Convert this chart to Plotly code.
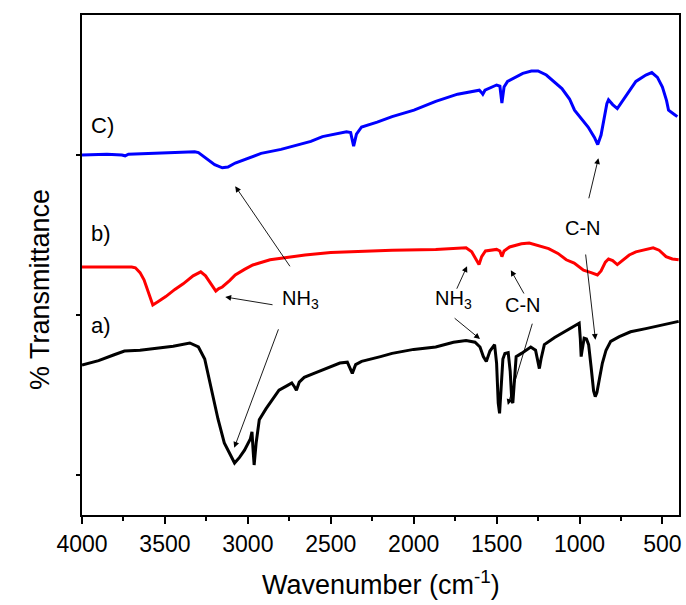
import plotly.graph_objects as go

# FTIR spectra: wavenumber (cm-1) and offset % transmittance for each sample
wn_a = [4000, 3900, 3810, 3744, 3650, 3573, 3450, 3350, 3298, 3260, 3232, 3208, 3180, 3142,
        3106, 3080, 3050, 3020, 2985, 2975, 2968, 2962, 2950, 2931, 2890, 2852, 2812, 2760,
        2735, 2718, 2707, 2690, 2660, 2601, 2520, 2445, 2400, 2385, 2370, 2350, 2314, 2200,
        2130, 2000, 1867, 1760, 1684, 1630, 1600, 1580, 1562, 1540, 1512, 1500, 1490, 1482,
        1474, 1462, 1450, 1430, 1418, 1408, 1402, 1395, 1382, 1350, 1294, 1265, 1252, 1242,
        1232, 1212, 1150, 1092, 1040, 1002, 995, 990, 985, 972, 958, 945, 930, 915, 905, 895,
        880, 862, 840, 812, 760, 692, 600, 556, 480, 402]
t_a = [33.75, 34.3, 35.0, 35.5, 35.6, 35.8, 36.1, 36.5, 36.0, 34.5, 31.9, 29.4, 27.0, 24.0,
       22.5, 21.5, 22.2, 23.1, 24.5, 25.4, 23.0, 21.25, 24.0, 26.9, 28.3, 29.4, 30.6, 31.2,
       31.5, 31.0, 30.6, 31.6, 32.2, 32.7, 33.4, 34.0, 34.1, 33.5, 32.7, 33.8, 34.2, 34.8,
       35.2, 35.7, 36.0, 36.6, 36.8, 36.6, 36.0, 34.8, 34.2, 35.5, 36.3, 34.0, 29.0, 27.7,
       30.0, 34.5, 35.2, 35.3, 33.0, 29.2, 29.0, 31.0, 34.8, 35.2, 36.0, 35.6, 34.2, 33.3,
       34.5, 36.3, 37.2, 37.9, 38.5, 38.96, 37.0, 34.8, 35.5, 37.1, 37.0, 36.3, 33.5, 30.5,
       29.8, 30.3, 32.0, 34.0, 35.6, 36.7, 37.3, 37.9, 38.3, 38.5, 38.9, 39.2]

wn_b = [4000, 3850, 3700, 3678, 3650, 3626, 3600, 3573, 3540, 3495, 3440, 3390, 3330, 3284,
        3255, 3232, 3210, 3193, 3175, 3154, 3110, 3076, 3020, 2970, 2866, 2760, 2655, 2500,
        2392, 2130, 1867, 1760, 1684, 1650, 1625, 1606, 1590, 1567, 1500, 1480, 1468, 1455,
        1421, 1350, 1303, 1250, 1186, 1130, 1080, 1032, 976, 930, 892, 870, 844, 825, 800,
        772, 740, 700, 660, 600, 556, 520, 478, 440, 402]
t_b = [46.0, 46.0, 46.0, 45.9, 45.3, 44.4, 42.8, 41.25, 41.7, 42.3, 43.2, 43.9, 44.9, 45.4,
       44.9, 44.2, 43.4, 43.0, 43.3, 43.5, 44.3, 45.0, 45.7, 46.25, 46.9, 47.2, 47.5, 47.8,
       47.9, 48.1, 48.2, 48.3, 48.4, 47.9, 47.0, 46.3, 47.3, 48.0, 48.2, 48.0, 47.3, 48.0,
       48.5, 48.9, 49.0, 48.7, 48.3, 47.7, 46.9, 46.5, 45.6, 45.3, 45.0, 45.5, 46.6, 47.0,
       46.8, 46.3, 46.8, 47.5, 47.9, 48.2, 48.4, 48.1, 47.3, 47.0, 46.9]

wn_c = [4000, 3850, 3760, 3740, 3720, 3600, 3450, 3320, 3298, 3260, 3200, 3154, 3120, 3076,
        3000, 2920, 2800, 2707, 2620, 2550, 2450, 2405, 2380, 2370, 2362, 2345, 2314, 2220,
        2130, 1998, 1867, 1735, 1640, 1604, 1590, 1583, 1570, 1500, 1480, 1468, 1455, 1434,
        1342, 1290, 1250, 1200, 1106, 1060, 1030, 990, 948, 910, 890, 870, 856, 835, 825,
        800, 772, 740, 700, 660, 600, 564, 530, 500, 475, 463, 430, 410]
t_c = [60.0, 60.1, 60.0, 59.9, 60.1, 60.2, 60.3, 60.4, 60.3, 59.7, 58.8, 58.4, 58.5, 59.0,
       59.6, 60.2, 60.7, 61.25, 61.7, 62.3, 62.7, 62.9, 62.8, 61.6, 61.1, 62.6, 63.5, 64.1,
       64.8, 65.6, 66.7, 67.6, 68.0, 68.1, 67.8, 67.6, 68.1, 68.75, 68.6, 66.5, 68.5, 69.2,
       70.2, 70.5, 70.5, 70.0, 68.3, 67.0, 65.6, 64.5, 63.5, 62.2, 61.3, 62.5, 64.0, 66.4,
       66.9, 66.3, 65.8, 66.8, 68.0, 69.2, 70.0, 70.3, 69.7, 68.5, 66.8, 65.6, 65.1, 64.8]

# Sample labels and band assignments
sample_labels = ["a)", "b)", "C)"]
sample_label_pos = [(3886, 38.75), (3886, 50.25), (3874, 63.75)]

band_texts = ["NH<sub>3</sub>", "NH<sub>3</sub>", "C-N", "C-N"]
band_text_pos = [(2680, 41.9), (1762, 41.9), (1342, 41.25), (976, 50.9)]

# arrows: (tail wn, tail value, head wn, head value)
arrows = [
    (2842, 41.25, 3136, 42.25),
    (2740, 45.9, 3076, 56.1),
    (2812, 38.4, 3082, 23.4),
    (1744, 43.1, 1678, 46.1),
    (1762, 39.75, 1600, 37.0),
    (1330, 42.5, 1414, 45.6),
    (1282, 39.1, 1432, 28.75),
    (946, 54.4, 886, 59.6),
    (964, 47.75, 904, 36.9),
]

FONT = "Liberation Sans, Arial, sans-serif"

fig = go.Figure()
for wn, t, col in [(wn_a, t_a, "#000000"), (wn_b, t_b, "#ff0000"), (wn_c, t_c, "#0000ff")]:
    fig.add_trace(go.Scatter(x=wn, y=t, mode="lines",
                             line=dict(color=col, width=3), showlegend=False))

annotations = []
for lab, (x, y) in zip(sample_labels, sample_label_pos):
    annotations.append(dict(x=x, y=y, xref="x", yref="y", text=lab, showarrow=False,
                            font=dict(family=FONT, size=22, color="black")))
for lab, (x, y) in zip(band_texts, band_text_pos):
    annotations.append(dict(x=x, y=y, xref="x", yref="y", text=lab, showarrow=False,
                            font=dict(family=FONT, size=20, color="black")))
for tx, ty, hx, hy in arrows:
    annotations.append(dict(x=hx, y=hy, ax=tx, ay=ty, xref="x", yref="y",
                            axref="x", ayref="y", text="", showarrow=True,
                            arrowhead=2, arrowsize=1.3, arrowwidth=0.9,
                            arrowcolor="black", standoff=0, startstandoff=0))

# axis titles placed as annotations around the plot frame
annotations.append(dict(x=0, y=0.45, xref="paper", yref="paper",
                        xanchor="center", yanchor="middle", xshift=-42,
                        text="% Transmittance", textangle=-90, showarrow=False,
                        font=dict(family=FONT, size=27, color="black")))
annotations.append(dict(x=0.5, y=0, xref="paper", yref="paper",
                        xanchor="center", yanchor="middle", yshift=-68,
                        text="Wavenumber (cm<sup>-1</sup>)", showarrow=False,
                        font=dict(family=FONT, size=27, color="black")))

fig.update_layout(
    width=686, height=605,
    margin=dict(l=82, r=4, t=15, b=90),
    paper_bgcolor="white", plot_bgcolor="white",
    annotations=annotations,
    xaxis=dict(range=[4000, 400], dtick=500, tick0=0, ticks="outside", ticklen=7,
               tickwidth=2, tickcolor="black", showline=True, linewidth=2,
               linecolor="black", mirror=True, showgrid=False, zeroline=False,
               tickfont=dict(family=FONT, size=23, color="black"),
               minor=dict(dtick=250, ticks="outside", ticklen=4, tickwidth=2,
                          tickcolor="black", showgrid=False)),
    yaxis=dict(range=[15, 77.5], tickvals=[20, 40, 60], showticklabels=False,
               ticks="outside", ticklen=4, tickwidth=2, tickcolor="black",
               showline=True, linewidth=2, linecolor="black", mirror=True,
               showgrid=False, zeroline=False),
)

fig.write_html("out.html")
